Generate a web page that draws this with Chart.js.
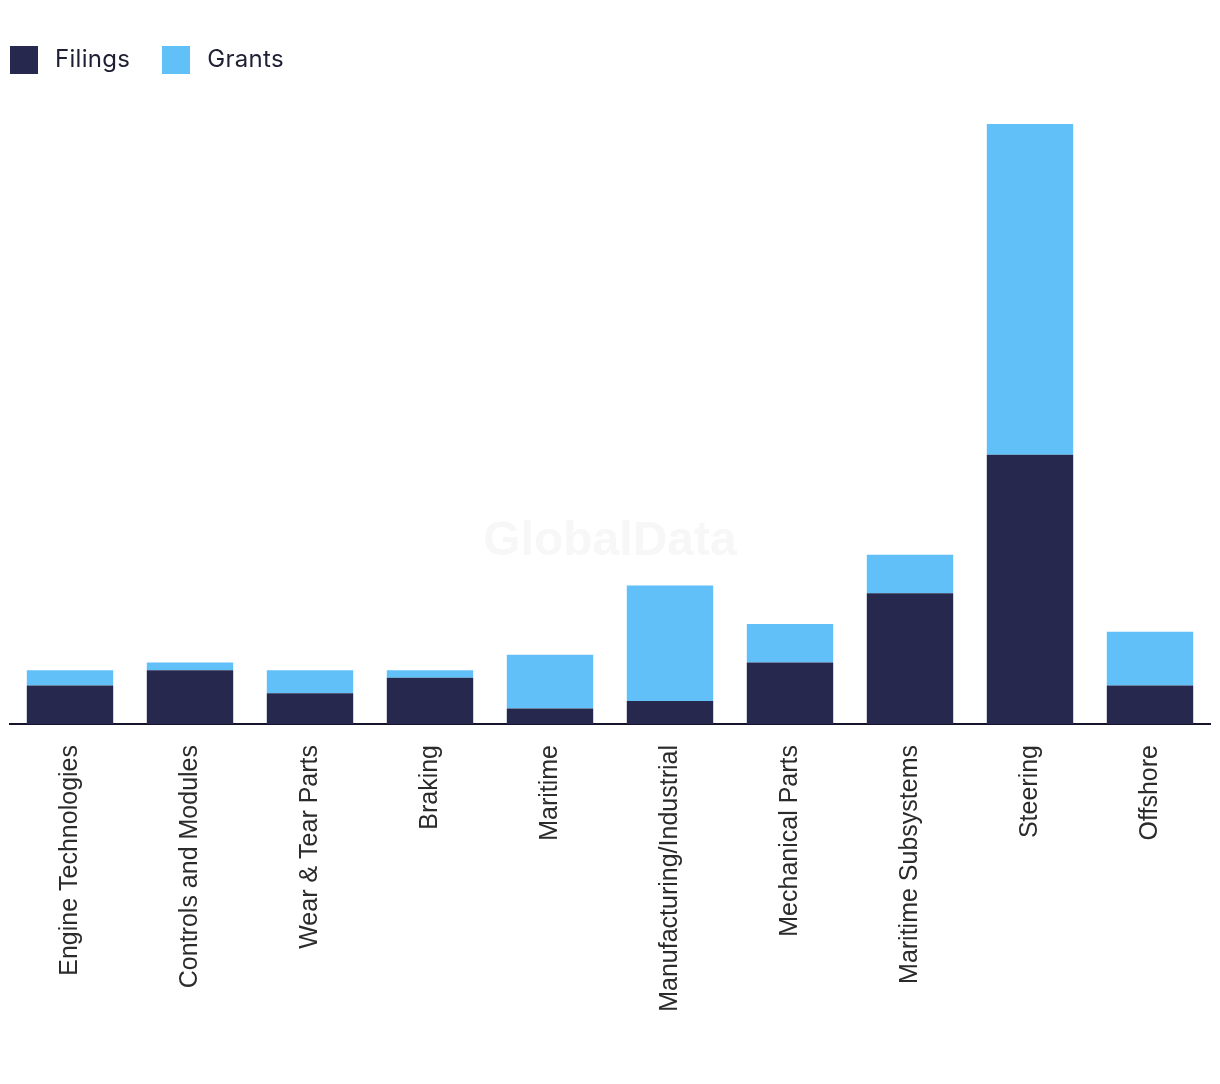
<!DOCTYPE html>
<html>
<head>
<meta charset="utf-8">
<script src="https://cdn.jsdelivr.net/npm/chart.js@4.4.1/dist/chart.umd.min.js"></script>
<style>
  html, body { margin: 0; padding: 0; background: #ffffff; }
  #wrap { position: relative; width: 1220px; height: 1084px; }
  #legend { position: absolute; left: 10px; top: 46px; display: flex; align-items: center;
            font-family: "Inter", "Lato", "Liberation Sans", sans-serif; font-size: 24px; color: #1f1f33; }
  .item { display: flex; align-items: center; margin-right: 32px; height: 28px; }
  .box { width: 28px; height: 28px; margin-right: 17px; }
  .item span { position: relative; top: -2px; letter-spacing: 0.3px; }
</style>
</head>
<body>
<div id="wrap">
  <canvas id="c" width="1220" height="1084"></canvas>
  <div id="legend"></div>
</div>
<script>
const categories = ["Engine Technologies", "Controls and Modules", "Wear & Tear Parts", "Braking", "Maritime",
  "Manufacturing/Industrial", "Mechanical Parts", "Maritime Subsystems", "Steering", "Offshore"];
const filings = [5, 7, 4, 6, 2, 3, 8, 17, 35, 5];
const grants  = [2, 1, 3, 1, 7, 15, 5, 5, 43, 7];
const seriesNames = ["Filings", "Grants"];
const seriesColors = ["#27284d", "#62c0f8"];

const watermark = {
  id: 'watermark',
  beforeDatasetsDraw(chart) {
    const ctx = chart.ctx;
    ctx.save();
    ctx.font = 'bold 48px "Liberation Sans", Arial, sans-serif';
    ctx.fillStyle = '#f7f7f7';
    ctx.textAlign = 'center';
    ctx.textBaseline = 'middle';
    ctx.fillText('GlobalData', 610, 542);
    ctx.restore();
  }
};

const chart = new Chart(document.getElementById('c'), {
  type: 'bar',
  data: {
    labels: categories,
    datasets: [
      { label: seriesNames[0], data: filings, backgroundColor: seriesColors[0] },
      { label: seriesNames[1], data: grants, backgroundColor: seriesColors[1] }
    ]
  },
  options: {
    responsive: false,
    animation: false,
    layout: { padding: { top: 124, left: 10, right: 10, bottom: 0 } },
    plugins: { legend: { display: false }, tooltip: { enabled: false } },
    scales: {
      x: {
        stacked: true,
        categoryPercentage: 1.0,
        barPercentage: 0.7,
        grid: { display: false },
        border: { display: true, color: '#15142a', width: 2 },
        ticks: {
          maxRotation: 90, minRotation: 90, padding: 13, labelOffset: 0,
          color: '#2b2b2b',
          font: { family: '"Liberation Sans", Arial, sans-serif', size: 25 }
        },
        afterFit(scale) { scale.height = 360; }
      },
      y: {
        stacked: true,
        display: false,
        min: 0,
        max: 78
      }
    }
  },
  plugins: [watermark]
});

const legendEl = document.getElementById('legend');
chart.data.datasets.forEach(ds => {
  const item = document.createElement('div');
  item.className = 'item';
  const box = document.createElement('div');
  box.className = 'box';
  box.style.background = ds.backgroundColor;
  const txt = document.createElement('span');
  txt.textContent = ds.label;
  item.appendChild(box);
  item.appendChild(txt);
  legendEl.appendChild(item);
});
</script>
</body>
</html>
